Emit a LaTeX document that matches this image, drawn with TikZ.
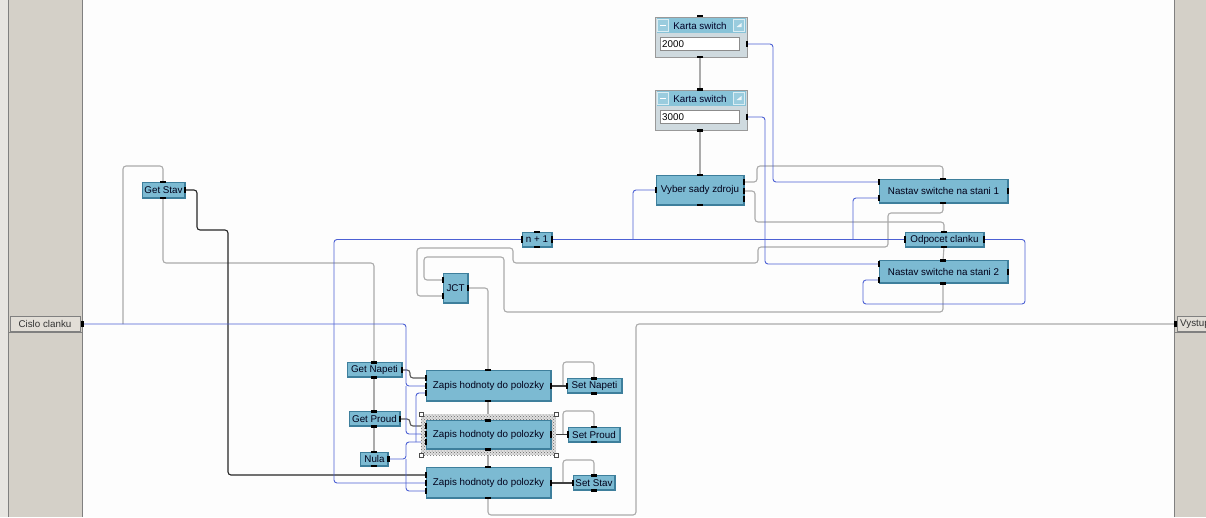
\documentclass[tikz,border=0pt]{standalone}
\usepackage{fontspec}
\setmainfont{Liberation Sans}
\usetikzlibrary{patterns}
\definecolor{bgc}{HTML}{FDFDFD}
\definecolor{panelc}{HTML}{D4D0C8}
\definecolor{panelln}{HTML}{808080}
\definecolor{tabc}{HTML}{E2DED7}
\definecolor{blkfill}{HTML}{7CBAD2}
\definecolor{blkdark}{HTML}{3E7F9C}
\definecolor{blklight}{HTML}{B8E2F0}
\definecolor{wblue}{HTML}{4C60D4}
\definecolor{wgray}{HTML}{ABABAB}
\definecolor{wblack}{HTML}{262626}
\definecolor{kpanel}{HTML}{CFDADF}
\definecolor{ktitle}{HTML}{88C3D8}
\pgfdeclarelayer{back}
\pgfdeclarelayer{wires}
\pgfsetlayers{back,wires,main}
\newcommand\pv[3]{\coordinate (#1) at (#2,#3);\fill[black] ({#2-1.3},{#3-3.2}) rectangle ({#2+1.3},{#3+3.2});}
\newcommand\ph[3]{\coordinate (#1) at (#2,#3);\fill[black] ({#2-3.2},{#3-1.3}) rectangle ({#2+3.2},{#3+1.3});}
\begin{document}
\begin{tikzpicture}[x=1pt,y=-1pt,font=\fontsize{9.8}{11}\selectfont,
 blk/.style={fill=blkfill,draw=blkdark,line width=0.5pt,inner sep=0pt,text=black!90!blue,
   path picture={\draw[blklight,line width=1.4pt] (path picture bounding box.south west) -- (path picture bounding box.north west) -- (path picture bounding box.north east);
   \draw[blkdark,line width=2.4pt] (path picture bounding box.south west) -- (path picture bounding box.south east) -- (path picture bounding box.north east);}},
 gw/.style={draw=wgray,line width=1.1pt,rounded corners=3pt},
 bw/.style={draw=wblue,line width=0.9pt,rounded corners=3pt},
 kw/.style={draw=wblack,line width=1.1pt,rounded corners=3pt},
 tab/.style={fill=tabc,draw=panelln,line width=0.4pt,inner sep=0pt,text=black!80},
 kpan/.style={fill=kpanel,draw=gray!80,line width=0.6pt,inner sep=0pt},
 ktit/.style={fill=ktitle,inner sep=0pt,text=black!85!blue},
 kbtn/.style={fill=ktitle!85!white,draw=white!70!ktitle,line width=0.5pt,inner sep=0pt},
 kent/.style={fill=white,draw=gray!90,line width=0.7pt,inner sep=0pt},
 hnd/.style={draw=black!70,fill=white,line width=0.5pt,minimum size=4.5pt,inner sep=0pt}
]
\useasboundingbox (0,0) rectangle (1206,517);
\begin{pgfonlayer}{back}
\fill[bgc] (0,0) rectangle (1206,517);
\fill[panelc!55] (0,0) rectangle (8,517);
\fill[panelc] (8,0) rectangle (82,517);
\draw[panelln] (8.5,0)--(8.5,517);
\draw[panelln] (82,0)--(82,517);
\fill[panelc] (1174,0) rectangle (1206,517);
\draw[panelln] (1174,0)--(1174,517);
\draw[panelln] (8,332)--(82,332);
\draw[panelln] (1174,332)--(1206,332);
\end{pgfonlayer}

% I/O tabs
\node[tab,minimum width=70,minimum height=15] (cislo) at (45,324) {Cislo clanku};
\node[tab,minimum height=15,anchor=west,inner xsep=3pt] (vystup) at (1177,324) {Vystup};

% Karta switch 1
\node[kpan,minimum width=92,minimum height=40] (kart1) at (701,37) {};
\node[ktit,minimum width=89,minimum height=15] (kbar1) at (701,25.5) {};
\node[ktit] (ktx1) at (700,25.5) {Karta switch};
\node[kbtn,minimum width=11,minimum height=12] (kmin1) at (663,25.5) {};
\draw[white,line width=1.3pt] (kmin1.west)++(2.5,0) -- ++(6,0);
\node[kbtn,minimum width=11,minimum height=12] (kmax1) at (739,25.5) {};
\fill[white!85!ktitle] (kmax1.center)++(-2.5,1.5) -- ++(5,0) -- ++(0,-4) -- cycle;
\node[kent,minimum width=79,minimum height=13] (kent1) at (699.5,43.5) {};
\node[anchor=west,inner sep=0pt] (kval1) at (662,44) {2000};

% Karta switch 2
\node[kpan,minimum width=92,minimum height=40] (kart2) at (701,110) {};
\node[ktit,minimum width=89,minimum height=15] (kbar2) at (701,98.5) {};
\node[ktit] (ktx2) at (700,98.5) {Karta switch};
\node[kbtn,minimum width=11,minimum height=12] (kmin2) at (663,98.5) {};
\draw[white,line width=1.3pt] (kmin2.west)++(2.5,0) -- ++(6,0);
\node[kbtn,minimum width=11,minimum height=12] (kmax2) at (739,98.5) {};
\fill[white!85!ktitle] (kmax2.center)++(-2.5,1.5) -- ++(5,0) -- ++(0,-4) -- cycle;
\node[kent,minimum width=79,minimum height=13] (kent2) at (699.5,117) {};
\node[anchor=west,inner sep=0pt] (kval2) at (662,117.5) {3000};

% blocks
\node[blk,minimum width=88,minimum height=30] (vyber) at (700,190) {Vyber sady zdroju};
\node[blk,minimum width=129,minimum height=24] (nas1) at (943.5,191) {Nastav switche na stani 1};
\node[blk,minimum width=79,minimum height=15] (odp) at (944.5,239.5) {Odpocet clanku};
\node[blk,minimum width=129,minimum height=23] (nas2) at (943.5,272) {Nastav switche na stani 2};
\node[blk,minimum width=30,minimum height=15] (np1) at (537,239.5) {n + 1};
\node[blk,minimum width=25,minimum height=30] (jct) at (455.5,288) {JCT};
\node[blk,minimum width=43,minimum height=16] (gstav) at (163.5,190) {Get Stav};
\node[blk,minimum width=55,minimum height=15] (gnap) at (374.5,370) {Get Napeti};
\node[blk,minimum width=51,minimum height=15] (gpr) at (374.5,419) {Get Proud};
\node[blk,minimum width=28,minimum height=14] (nula) at (374.5,459) {Nula};

% selection frame
\fill[gray!25] (421,414) rectangle (556,455);
\fill[pattern=crosshatch dots,pattern color=black!60] (421,414) rectangle (556,455);

\node[blk,minimum width=125,minimum height=31] (zap1) at (488.5,385.5) {Zapis hodnoty do polozky};
\node[blk,minimum width=125,minimum height=29] (zap2) at (488.5,435) {Zapis hodnoty do polozky};
\node[blk,minimum width=125,minimum height=31] (zap3) at (488.5,482.5) {Zapis hodnoty do polozky};
\node[blk,minimum width=55,minimum height=15] (snap) at (594.5,386) {Set Napeti};
\node[blk,minimum width=52,minimum height=15] (spr) at (594,434.5) {Set Proud};
\node[blk,minimum width=42,minimum height=15] (sst) at (594,483) {Set Stav};

\node[hnd] (h1) at (421,414) {};
\node[hnd] (h2) at (556,414) {};
\node[hnd] (h3) at (421,455) {};
\node[hnd] (h4) at (556,455) {};

% pins
\pv{cso}{82.5}{324}
\pv{vyin}{1175.5}{324}
\ph{k1t}{700}{16} \ph{k1b}{700}{57} \pv{k1o}{747}{44}
\ph{k2t}{700}{89.5} \ph{k2b}{700}{130.5} \pv{k2o}{747}{117}
\ph{vyt}{700}{175} \ph{vyb}{700}{205} \pv{vyi}{656}{190}
\pv{vyo1}{744}{182} \pv{vyo2}{744}{191} \pv{vyo3}{744}{199}
\ph{n1t}{943}{179} \ph{n1b}{943}{203} \pv{n1i1}{879}{182} \pv{n1i2}{879}{198} \pv{n1o}{1008}{191}
\ph{odt}{944}{232} \ph{odb}{944}{247} \pv{odi}{905}{239.5} \pv{odo}{984}{239.5}
\ph{n2t}{943}{260.5} \ph{n2b}{943}{283.5} \pv{n2i1}{879}{264} \pv{n2i2}{879}{280} \pv{n2o}{1008}{272}
\ph{npt}{537}{232} \ph{npb}{537}{247} \pv{npi}{522}{239.5} \pv{npo}{552}{239.5}
\pv{ji1}{443}{280} \pv{ji2}{443}{296} \pv{jo}{468}{288}
\ph{gst}{163}{182} \ph{gsb}{163}{198} \pv{gso}{185}{190}
\ph{gnt}{374}{362.5} \ph{gnb}{374}{377.5} \pv{gno}{402}{370}
\ph{gpt}{374}{411.5} \ph{gpb}{374}{426.5} \pv{gpo}{400}{419}
\ph{nut}{374}{452} \ph{nub}{374}{466} \pv{nuo}{388.5}{459}
\ph{z1top}{488}{370} \ph{z1bot}{488}{401} \pv{z1i1}{426}{378} \pv{z1i2}{426}{386} \pv{z1i3}{426}{393} \pv{z1out}{551}{386}
\ph{z2top}{488}{420.5} \ph{z2bot}{488}{449.5} \pv{z2i1}{426}{426} \pv{z2i2}{426}{434} \pv{z2i3}{426}{442} \pv{z2out}{551}{434.5}
\ph{z3top}{488}{467} \ph{z3bot}{488}{498} \pv{z3i1}{426}{475} \pv{z3i2}{426}{483} \pv{z3i3}{426}{491} \pv{z3out}{551}{483}
\ph{sntop}{594}{378.5} \ph{snbot}{594}{393.5} \pv{sni}{567}{386}
\ph{sptop}{594}{427} \ph{spbot}{594}{442} \pv{spi}{568}{434.5}
\ph{sstop}{594}{475.5} \ph{ssbot}{594}{490.5} \pv{ssi}{573}{483}

\coordinate (gj) at (123,324);
\coordinate (lp1) at (563,386);
\coordinate (lp2) at (563,434.5);
\coordinate (lp3) at (563,483);
\coordinate (bj1) at (406,386);
\coordinate (bj2) at (633,239.5);
\coordinate (bj3) at (853,239.5);
\coordinate (bj4) at (416,442);
\coordinate (bj5) at (406,459);

\begin{pgfonlayer}{wires}
% gray sequence wires
\draw[gw] (k1b)--(k2t);
\draw[gw] (k2b)--(vyt);
\draw[gw] (vyo1)--(757,182)--(757,166)--(943,166)--(n1t);
\draw[gw] (vyo2)--(755,191)--(755,222)--(944,222)--(odt);
\draw[gw] (n1b)--(943,213)--(888,213)--(888,247)--(758,247)--(758,263)--(513,263)--(513,248)--(417,248)--(417,296)--(ji2);
\draw[gw] (n2b)--(943,312)--(504,312)--(504,257)--(424,257)--(424,280)--(ji1);
\draw[gw] (jo)--(488,288)--(z1top);
\draw[gw] (gj)--(123,166)--(163,166)--(gst);
\draw[gw] (gsb)--(163,263)--(374,263)--(gnt);
\draw[gw] (gnb)--(gpt);
\draw[gw] (gpb)--(nut);
\draw[gw] (odb)--(n2t);
\draw[gw] (z1bot)--(z2top);
\draw[gw] (z2bot)--(z3top);
\draw[gw] (z3bot)--(488,515)--(636,515)--(636,324)--(vyin);
\draw[gw] (lp1)--(563,362)--(594,362)--(sntop);
\draw[gw] (lp2)--(563,411)--(594,411)--(sptop);
\draw[gw] (lp3)--(563,460)--(594,460)--(sstop);
% black data wires
\draw[kw] (gso)--(197,190)--(197,230)--(228,230)--(228,475)--(z3i1);
\draw[kw,draw=black!65] (gno)--(410,370)--(410,378)--(z1i1);
\draw[kw,draw=black!65] (gpo)--(410,419)--(410,426)--(z2i1);
\draw[kw,draw=black!75] (z1out)--(sni);
\draw[kw,draw=black!75] (z2out)--(spi);
\draw[kw,draw=black!75] (z3out)--(ssi);
% blue data wires
\draw[bw] (cso)--(406,324)--(406,386)--(z1i2);
\draw[bw] (bj1)--(406,434)--(z2i2);
\draw[bw] (npi)--(334,239.5)--(334,483)--(z3i2);
\draw[bw] (npo)--(odi);
\draw[bw] (bj2)--(633,190)--(vyi);
\draw[bw] (bj3)--(853,198)--(n1i2);
\draw[bw] (k1o)--(773,44)--(773,182)--(n1i1);
\draw[bw] (k2o)--(765,117)--(765,264)--(n2i1);
\draw[bw] (odo)--(1025,239.5)--(1025,304)--(863,304)--(863,280)--(n2i2);
\draw[bw] (nuo)--(bj5)--(406,442)--(z2i3);
\draw[bw] (bj4)--(416,393)--(z1i3);
\draw[bw] (bj5)--(406,491)--(z3i3);
\end{pgfonlayer}
\end{tikzpicture}
\end{document}
